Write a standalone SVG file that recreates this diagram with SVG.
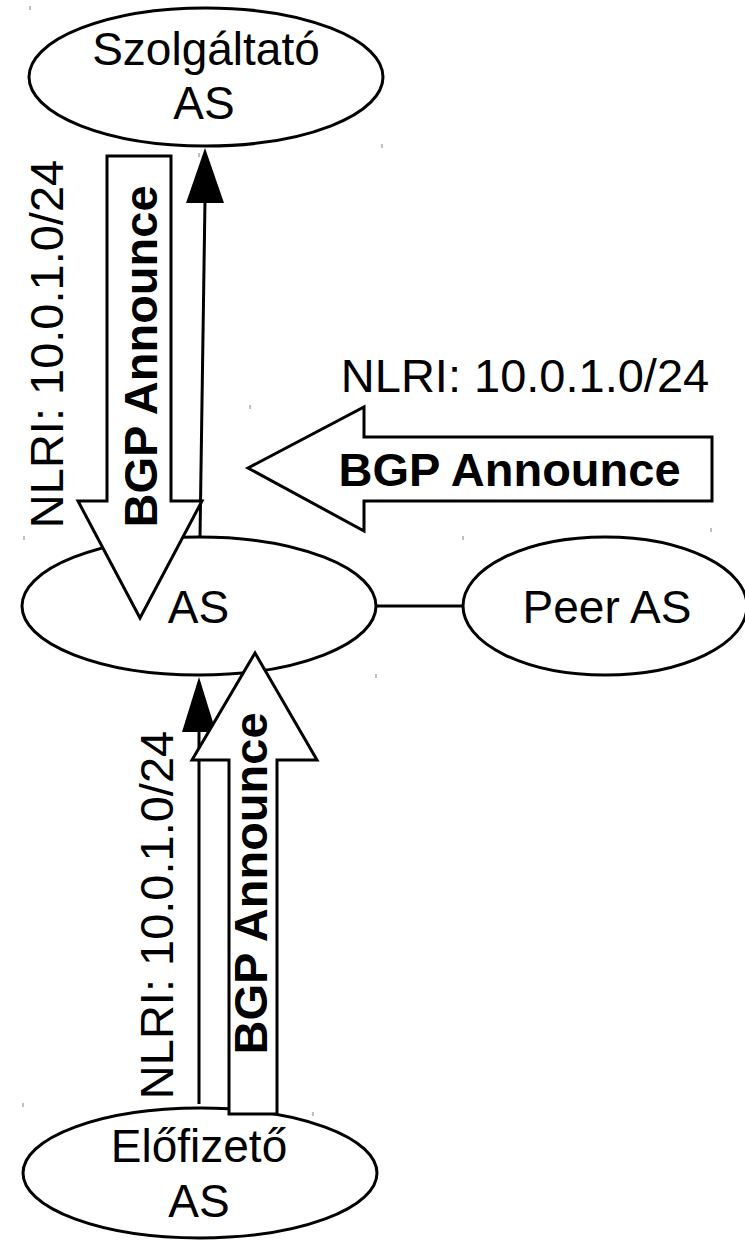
<svg xmlns="http://www.w3.org/2000/svg" width="745" height="1240" viewBox="0 0 745 1240">
<style>
.node{fill:#fff;stroke:#000;stroke-width:3}
.lbl{font-family:"Liberation Sans",Arial,sans-serif;font-size:46px;fill:#000;text-anchor:middle}
.nlri{font-family:"Liberation Sans",Arial,sans-serif;font-size:47px;fill:#000;text-anchor:middle}
.bgp{font-family:"Liberation Sans",Arial,sans-serif;font-size:47px;font-weight:bold;fill:#000;text-anchor:middle}
.line{fill:none;stroke:#000;stroke-width:3}
.head{fill:#000;stroke:none}
.block{fill:#fff;stroke:#000;stroke-width:3;stroke-linejoin:miter}
.mark{stroke:#808080;stroke-width:1}
</style>
<rect width="745" height="1240" fill="#fff"/>
<g id="marks">
<line class="mark" x1="30" y1="6" x2="30" y2="10"/>
<line class="mark" x1="199" y1="153" x2="199" y2="157"/>
<line class="mark" x1="382" y1="144" x2="382" y2="148"/>
<line class="mark" x1="250" y1="405" x2="250" y2="409"/>
<line class="mark" x1="463" y1="536" x2="463" y2="540"/>
<line class="mark" x1="711" y1="528" x2="711" y2="532"/>
<line class="mark" x1="24" y1="536" x2="24" y2="540"/>
<line class="mark" x1="80" y1="615" x2="80" y2="619"/>
<line class="mark" x1="194" y1="651" x2="194" y2="655"/>
<line class="mark" x1="376" y1="674" x2="376" y2="678"/>
<line class="mark" x1="23" y1="1103" x2="23" y2="1107"/>
<line class="mark" x1="313" y1="1112" x2="313" y2="1116"/>
</g>
<g id="node-szolgaltato">
<ellipse class="node" cx="206" cy="77" rx="177" ry="69"/>
<text class="lbl" x="206" y="65">Szolgáltató</text>
<text class="lbl" x="204" y="119">AS</text>
</g>
<g id="node-as">
<ellipse class="node" cx="199" cy="606" rx="177" ry="69"/>
<text class="lbl" x="198.5" y="623">AS</text>
</g>
<g id="node-peer">
<ellipse class="node" cx="605" cy="606" rx="142" ry="69"/>
<text class="lbl" x="607" y="623">Peer AS</text>
</g>
<g id="node-elofizeto">
<ellipse class="node" cx="200" cy="1173" rx="177" ry="65"/>
<text class="lbl" x="199" y="1162">Előfizető</text>
<text class="lbl" x="199" y="1217">AS</text>
</g>
<g id="connectors">
<line class="line" x1="376" y1="606" x2="463" y2="606"/>
<line class="line" x1="200" y1="537" x2="205" y2="200"/>
<polygon class="head" points="205,148 186,203 224,203"/>
<line class="line" x1="199" y1="1104" x2="199" y2="728"/>
<polygon class="head" points="199,677 182,732 216,732"/>
<polygon id="announce-down" class="block" points="107,156 171,156 171,501 202,501 140,618 78,501 107,501"/>
<polygon id="announce-left" class="block" points="248,468 364,407 364,437 712,437 712,501 364,501 364,531"/>
<polygon id="announce-up" class="block" points="255,653 317,760 277,760 277,1114 229,1114 229,760 192,760"/>
</g>
<g id="labels">
<text class="nlri" transform="translate(63,344) rotate(-90)">NLRI: 10.0.1.0/24</text>
<text class="bgp" transform="translate(157,356.5) rotate(-90)">BGP Announce</text>
<text class="nlri" x="525" y="392">NLRI: 10.0.1.0/24</text>
<text class="bgp" x="509.5" y="486">BGP Announce</text>
<text class="nlri" transform="translate(173,915) rotate(-90)">NLRI: 10.0.1.0/24</text>
<text class="bgp" transform="translate(267,883.5) rotate(-90)">BGP Announce</text>
</g>
</svg>
